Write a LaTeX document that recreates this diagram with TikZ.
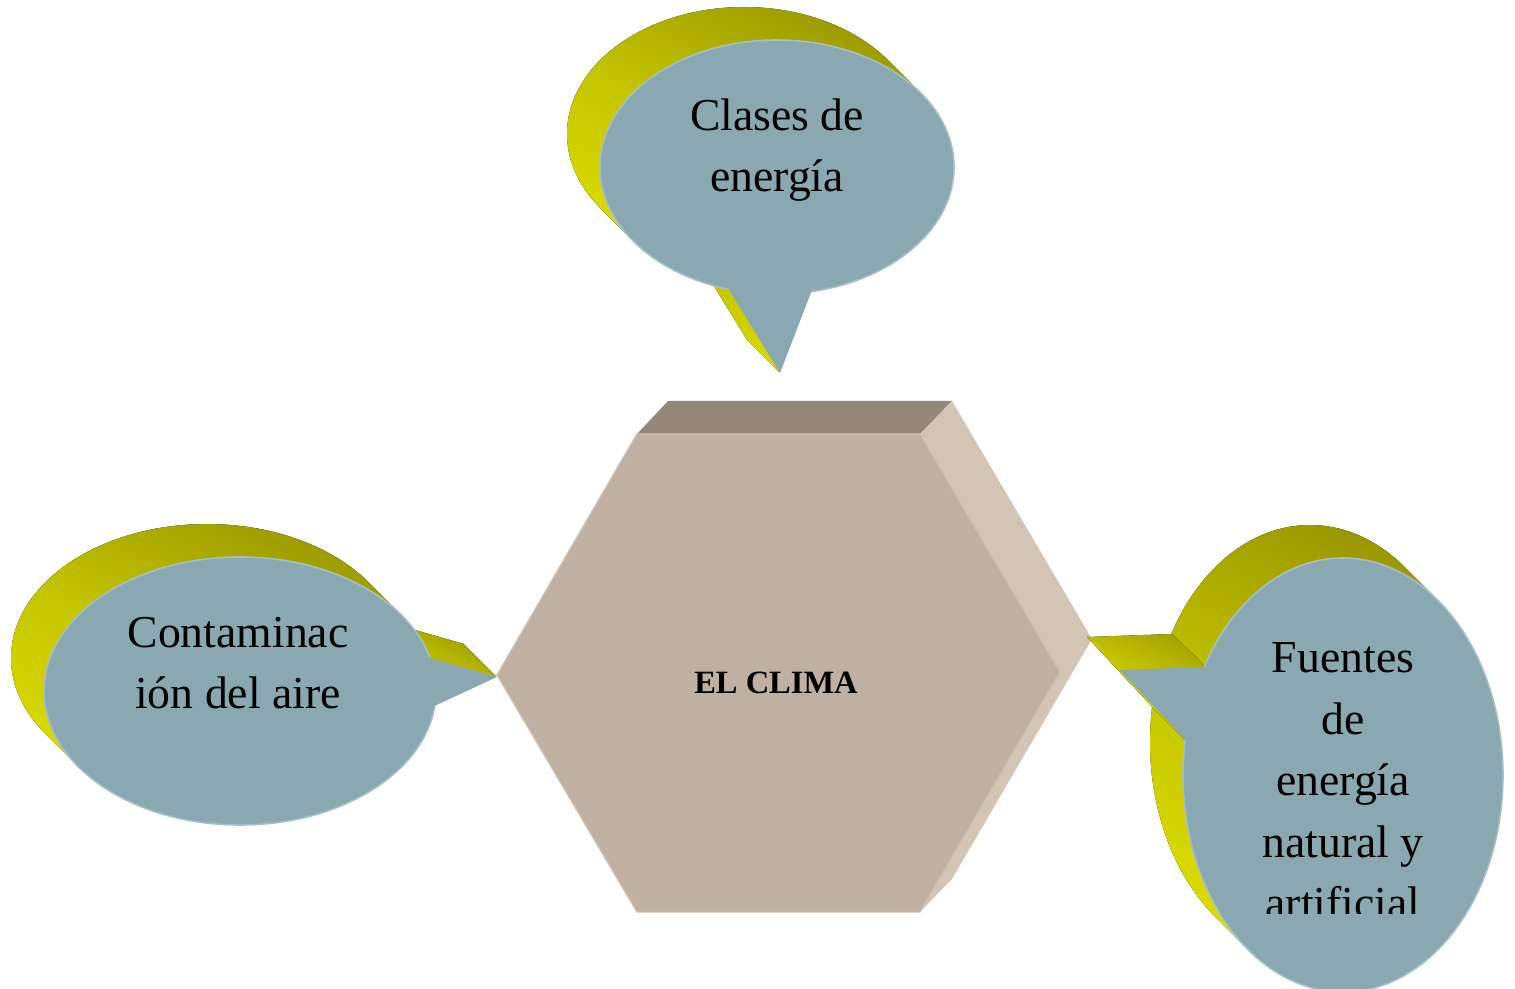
\documentclass[tikz,border=0pt]{standalone}
\usepackage{fontspec}
\setmainfont{Liberation Serif}
\definecolor{bubble}{HTML}{8AA8B2}
\definecolor{bubblerim}{HTML}{A3C0C9}
\definecolor{yelLight}{HTML}{DEDE00}
\definecolor{yelMid}{HTML}{C4C400}
\definecolor{yelDark}{HTML}{9A9800}
\definecolor{hexfront}{HTML}{C0B0A2}
\definecolor{hextop}{HTML}{948779}
\definecolor{hexside}{HTML}{D4C4B4}
\definecolor{hexedge}{HTML}{CDBFB1}
\tikzset{
  shadowfill/.style={top color=yelDark, bottom color=yelLight, middle color=yelMid, shading angle=-25},
  bubblefill/.style={fill=bubble},
  bubblerim/.style={draw=bubblerim, line width=0.9pt},
  bubbletext/.style={align=center, font=\fontsize{26}{35}\selectfont},
}
\begin{document}
\begin{tikzpicture}[x=0.02cm,y=-0.02cm]
\useasboundingbox (0,0) rectangle (1515,989);
% hexagon
\fill [hextop] (637,434) -- (668,401) -- (952,401) -- (920,434) -- cycle;
\fill [hexside] (920,434) -- (952,401) -- (1092,639) -- (952,879) -- (920,912) -- (1060,672) -- cycle;
\fill [hexfront, draw=hexedge, line width=0.8pt] (637,434) -- (920,434) -- (1060,672) -- (920,912) -- (637,912) -- (497,675) -- cycle;
\node (clima) at (776,683) {\fontsize{18.5}{22}\selectfont\bfseries EL CLIMA};

% extrusions
\fill [shadowfill] foreach \t in {1,...,33} {({777-\t},{167-\t}) ellipse (177 and 127)};
\fill [shadowfill] foreach \t in {1,...,33} {({728-\t},{288-\t}) -- ({780-\t},{373-\t}) -- ({812-\t},{290-\t}) -- ({770-\t},{250-\t}) -- cycle};
\fill [shadowfill] foreach \t in {1,...,33} {({240-\t},{691-\t}) ellipse (196 and 134)};
\fill [shadowfill] foreach \t in {1,...,33} {({420-\t},{655-\t}) -- ({497-\t},{677-\t}) -- ({430-\t},{708-\t}) -- ({380-\t},{690-\t}) -- cycle};
\fill [shadowfill] foreach \t in {1,...,33} {({1343-\t},{775-\t}) ellipse (160 and 217)};
\fill [shadowfill] foreach \t in {1,...,33} {({1205-\t},{667-\t}) -- ({1120-\t},{670-\t}) -- ({1187-\t},{742-\t}) -- ({1260-\t},{720-\t}) -- cycle};

% bubbles
\fill [bubblefill, bubblerim] (777,167) ellipse (177 and 127);
\fill [bubblefill] (728,288) -- (780,373) -- (812,290) -- (770,250) -- cycle;
\fill [bubblefill, bubblerim] (240,691) ellipse (196 and 134);
\fill [bubblefill] (420,655) -- (497,677) -- (430,708) -- (380,690) -- cycle;
\fill [bubblefill, bubblerim] (1343,775) ellipse (160 and 217);
\fill [bubblefill] (1205,667) -- (1120,670) -- (1187,742) -- (1260,720) -- cycle;

\node [bubbletext] (clases) at (777,150) {Clases de\\energía};
\node [bubbletext] (contaminacion) at (238,663) {Contaminac\\ión del aire};
\begin{scope}
\clip (1150,500) rectangle (1515,913);
\node [bubbletext] (fuentes) at (1343,781) {Fuentes\\de\\energía\\natural y\\artificial};
\end{scope}
\end{tikzpicture}
\end{document}
